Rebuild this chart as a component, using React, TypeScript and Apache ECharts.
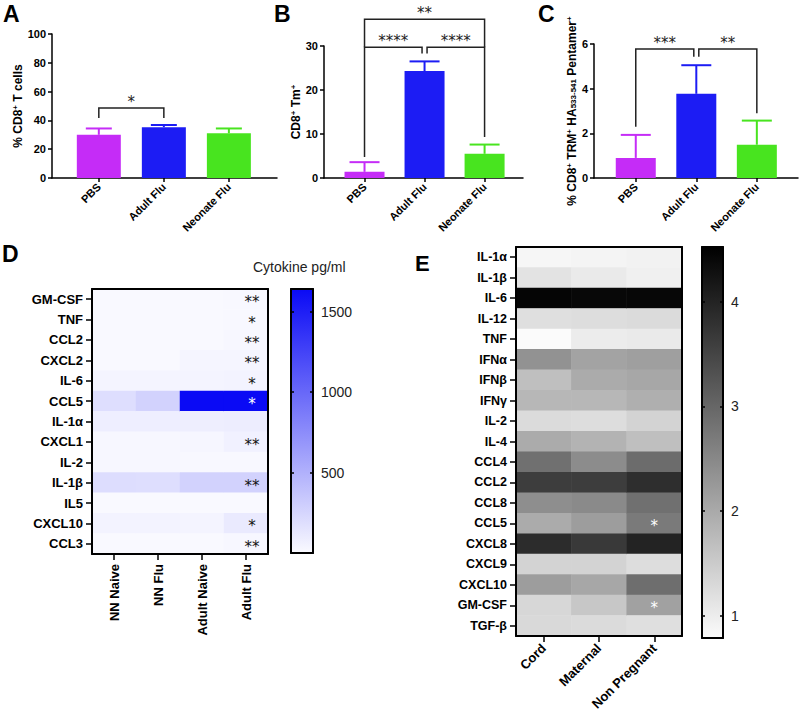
import React, { useEffect, useRef } from 'react';
import * as echarts from 'echarts';

const FONT = '"Liberation Sans", Arial, Helvetica, sans-serif';
const STAR_FONT = '"DejaVu Sans", "Liberation Sans", sans-serif';

// ---------- Panels A-C (bar charts) ----------
const barGroups = ['PBS', 'Adult Flu', 'Neonate Flu'];
const barColors = ['#c52cf7', '#1c1cf4', '#48e41f'];

const meansA = [30, 35.3, 31.1];
const upperA = [34.4, 36.8, 34.4];
const meansB = [1.4, 24.3, 5.5];
const upperB = [3.6, 26.5, 7.6];
const meansC = [0.9, 3.77, 1.49];
const upperC = [1.93, 5.05, 2.57];

// [fromGroup, toGroup, bracketLevel, legEndFrom, legEndTo, stars]
const bracketsA: [number, number, number, number, number, string][] = [[0, 1, 48.6, 41.6, 41.6, '*']];
const bracketsB: [number, number, number, number, number, string][] = [
  [0, 1, 29.7, 4.8, 28.3, '****'],
  [1, 2, 29.7, 28.3, 9.3, '****'],
  [0, 2, 36.1, 29.7, 29.7, '**'],
];
const bracketsC: [number, number, number, number, number, string][] = [
  [0, 1, 5.78, 2.29, 5.43, '***'],
  [1, 2, 5.78, 5.43, 2.9, '**'],
];

// ---------- Panel D (mouse cytokines) ----------
const rowsD = ['GM-CSF', 'TNF', 'CCL2', 'CXCL2', 'IL-6', 'CCL5', 'IL-1α', 'CXCL1', 'IL-2', 'IL-1β', 'IL5', 'CXCL10', 'CCL3'];
const colsD = ['NN Naive', 'NN Flu', 'Adult Naive', 'Adult Flu'];
const dNNNaive = [6, 4, 4, 6, 40, 190, 80, 22, 18, 200, 4, 50, 10];
const dNNFlu = [6, 4, 4, 6, 40, 270, 80, 22, 18, 190, 4, 50, 10];
const dAdultNaive = [10, 8, 8, 35, 40, 1640, 85, 28, 15, 270, 5, 40, 10];
const dAdultFlu = [15, 12, 18, 35, 50, 1640, 90, 60, 15, 270, 5, 110, 18];
const starsD = ['**', '*', '**', '**', '*', '*', '', '**', '', '**', '', '*', '**'];
const rangeD = [0, 1640];
const ticksD = [500, 1000, 1500];

// ---------- Panel E (human cytokines) ----------
const rowsE = ['IL-1α', 'IL-1β', 'IL-6', 'IL-12', 'TNF', 'IFNα', 'IFNβ', 'IFNγ', 'IL-2', 'IL-4', 'CCL4', 'CCL2', 'CCL8', 'CCL5', 'CXCL8', 'CXCL9', 'CXCL10', 'GM-CSF', 'TGF-β'];
const colsE = ['Cord', 'Maternal', 'Non Pregnant'];
const eCord = [0.87, 1.14, 4.45, 1.2, 0.79, 2.35, 1.68, 1.8, 1.26, 1.98, 2.86, 3.62, 2.41, 1.98, 3.86, 1.38, 2.19, 1.32, 1.29];
const eMaternal = [0.9, 1.05, 4.4, 1.23, 1.02, 2.1, 1.98, 1.8, 1.23, 1.86, 2.44, 3.62, 2.47, 2.19, 3.68, 1.38, 2.04, 1.56, 1.26];
const eNonPregnant = [0.93, 0.96, 4.42, 1.26, 1.05, 2.16, 2.04, 1.92, 1.39, 1.68, 2.92, 3.83, 2.86, 2.71, 4.0, 1.23, 2.89, 2.13, 1.2];
const starsE = ['', '', '', '', '', '', '', '', '', '', '', '', '', '*', '', '', '', '*', ''];
const rangeE = [0.79, 4.52];
const ticksE = [1, 2, 3, 4];

const BLACK = '#000';

function barAxes(i: number, min: number, max: number, yMax: number, interval: number, name: string, nameGap: number) {
  const line = { color: BLACK, width: 1.5 };
  const xAxis = {
    type: 'value', gridIndex: i, min, max,
    axisLine: { show: true, onZero: false, lineStyle: line },
    axisTick: { show: true, customValues: [0, 1, 2], length: 4, lineStyle: line },
    axisLabel: {
      customValues: [0, 1, 2], formatter: (v: number) => barGroups[Math.round(v)] ?? '',
      rotate: 45, fontSize: 11, fontWeight: 'bold', color: BLACK, margin: 7, fontFamily: FONT,
    },
    splitLine: { show: false },
  };
  const yAxis = {
    type: 'value', gridIndex: i, min: 0, max: yMax, interval,
    axisLine: { show: true, onZero: false, lineStyle: line },
    axisTick: { show: true, length: 4, lineStyle: line },
    axisLabel: { fontSize: 11, fontWeight: 'bold', color: BLACK, margin: 6, fontFamily: FONT },
    splitLine: { show: false },
    name, nameLocation: 'middle', nameGap,
    nameTextStyle: {
      fontSize: 12, fontWeight: 'bold', color: BLACK, fontFamily: FONT,
      rich: {
        sup: { fontSize: 8, fontWeight: 'bold', color: BLACK, verticalAlign: 'top', fontFamily: FONT },
        sub: { fontSize: 8, fontWeight: 'bold', color: BLACK, verticalAlign: 'bottom', fontFamily: FONT },
      },
    },
  };
  return { xAxis, yAxis };
}

function barSeries(i: number, means: number[], upper: number[], brackets: [number, number, number, number, number, string][], split: boolean, barW: number, capW: number) {
  return [
    {
      type: 'bar', xAxisIndex: i, yAxisIndex: i, barWidth: barW, z: 2,
      data: means.map((v, k) => ({ value: [k, v], itemStyle: { color: barColors[k] } })),
    },
    {
      type: 'custom', xAxisIndex: i, yAxisIndex: i, z: 3, clip: false,
      data: means.map((v, k) => [k, v, upper[k]]),
      renderItem: (params: any, api: any) => {
        const k = api.value(0);
        const p0 = api.coord([k, api.value(1)]);
        const p1 = api.coord([k, api.value(2)]);
        const c = barColors[k];
        return {
          type: 'group', children: [
            { type: 'line', shape: { x1: p0[0], y1: p0[1], x2: p1[0], y2: p1[1] }, style: { stroke: c, lineWidth: 2 } },
            { type: 'line', shape: { x1: p1[0] - capW / 2, y1: p1[1], x2: p1[0] + capW / 2, y2: p1[1] }, style: { stroke: c, lineWidth: 2 } },
          ],
        };
      },
    },
    {
      type: 'custom', xAxisIndex: i, yAxisIndex: i, z: 4, clip: false,
      data: brackets.map((b) => [b[0], b[2]]),
      renderItem: (params: any, api: any) => {
        const [from, to, level, lf, lt, stars] = brackets[params.dataIndex];
        const pa = api.coord([from, level]);
        const pb = api.coord([to, level]);
        let x1 = pa[0];
        let x2 = pb[0];
        if (split && to - from === 1) {
          if (from === 1) x1 += 2.5;
          if (to === 1) x2 -= 2.5;
        }
        const y = pa[1];
        const y1 = api.coord([from, lf])[1];
        const y2 = api.coord([to, lt])[1];
        return {
          type: 'group', children: [
            {
              type: 'polyline', shape: { points: [[x1, y1], [x1, y], [x2, y], [x2, y2]] },
              style: { stroke: '#222', lineWidth: 1.5, fill: 'none' },
            },
            {
              type: 'text', x: (x1 + x2) / 2, y: y - 6,
              style: { text: stars, fontSize: 15, fontFamily: STAR_FONT, fill: '#222', align: 'center', verticalAlign: 'middle' },
            },
          ],
        };
      },
    },
  ];
}

function borderCatAxis(grid: number, data: string[], position: string, isX: boolean) {
  return {
    type: 'category', gridIndex: grid, data, position, z: 10,
    inverse: !isX,
    axisLine: { show: true, onZero: false, lineStyle: { color: BLACK, width: 2 } },
    axisTick: { show: false }, axisLabel: { show: false }, splitLine: { show: false },
  };
}

function colorbarSeries(grid: number, range: number[], top: string, bottom: string) {
  return {
    type: 'custom', xAxisIndex: grid, yAxisIndex: grid, z: 2, clip: false,
    data: [[0, range[1]]],
    renderItem: (params: any, api: any) => {
      const pt = api.coord([0, range[1]]);
      const pb = api.coord([0, range[0]]);
      const w = api.size([1, 0])[0];
      return {
        type: 'rect',
        shape: { x: pt[0] - w / 2, y: pt[1], width: w, height: pb[1] - pt[1] },
        style: {
          fill: new echarts.graphic.LinearGradient(0, 0, 0, 1, [
            { offset: 0, color: top }, { offset: 1, color: bottom },
          ]),
        },
      };
    },
  };
}

function colorbarAxes(grid: number, range: number[], ticks: number[]) {
  const line = { color: BLACK, width: 2 };
  const x = [
    { type: 'category', gridIndex: grid, data: [''], position: 'bottom', z: 10, axisLine: { show: true, onZero: false, lineStyle: line }, axisTick: { show: false }, axisLabel: { show: false } },
    { type: 'category', gridIndex: grid, data: [''], position: 'top', z: 10, axisLine: { show: true, onZero: false, lineStyle: line }, axisTick: { show: false }, axisLabel: { show: false } },
  ];
  const y = [
    {
      type: 'value', gridIndex: grid, min: range[0], max: range[1], position: 'right', z: 10,
      axisLine: { show: true, onZero: false, lineStyle: line },
      axisTick: { show: true, inside: true, length: 3, customValues: ticks, lineStyle: { color: BLACK, width: 1.5 } },
      axisLabel: { customValues: ticks, formatter: (v: number) => String(v), fontSize: 14, color: '#222', margin: 8, fontFamily: FONT },
      splitLine: { show: false },
    },
    {
      type: 'value', gridIndex: grid, min: range[0], max: range[1], position: 'left', z: 10,
      axisLine: { show: true, onZero: false, lineStyle: line },
      axisTick: { show: true, inside: true, length: 3, customValues: ticks, lineStyle: { color: BLACK, width: 1.5 } },
      axisLabel: { show: false },
      splitLine: { show: false },
    },
  ];
  return { x, y };
}

function buildOption() {
  const a = barAxes(0, -0.72, 2.74, 100, 20, '% CD8{sup|+} T cells', 24);
  const b = barAxes(1, -0.675, 2.64, 30, 10, 'CD8{sup|+} Tm{sup|+}', 21);
  const c = barAxes(2, -0.69, 2.68, 6, 2, '% CD8{sup|+} TRM{sup|+} HA{sub|533-541} Pentamer{sup|+}', 16);

  const heatLabel = { fontSize: 13, fontWeight: 'bold', color: BLACK, fontFamily: FONT };
  const tickLine = { color: BLACK, width: 1.5 };

  const dX = {
    type: 'category', gridIndex: 3, data: colsD, position: 'bottom', z: 10,
    axisLine: { show: true, onZero: false, lineStyle: { color: BLACK, width: 2 } },
    axisTick: { show: true, alignWithLabel: true, length: 6, lineStyle: tickLine },
    axisLabel: { ...heatLabel, rotate: 90, margin: 10 },
    splitLine: { show: false },
  };
  const dY = {
    type: 'category', gridIndex: 3, data: rowsD, inverse: true, position: 'left', z: 10,
    axisLine: { show: true, onZero: false, lineStyle: { color: BLACK, width: 2 } },
    axisTick: { show: true, alignWithLabel: true, length: 6, lineStyle: tickLine },
    axisLabel: { ...heatLabel, margin: 9 },
    splitLine: { show: false },
  };
  const eX = {
    type: 'category', gridIndex: 5, data: colsE, position: 'bottom', z: 10,
    axisLine: { show: true, onZero: false, lineStyle: { color: BLACK, width: 2 } },
    axisTick: { show: true, alignWithLabel: true, length: 6, lineStyle: tickLine },
    axisLabel: { ...heatLabel, rotate: 45, margin: 10 },
    splitLine: { show: false },
  };
  const eY = {
    type: 'category', gridIndex: 5, data: rowsE, inverse: true, position: 'left', z: 10,
    axisLine: { show: true, onZero: false, lineStyle: { color: BLACK, width: 2 } },
    axisTick: { show: true, alignWithLabel: true, length: 6, lineStyle: tickLine },
    axisLabel: { ...heatLabel, fontSize: 12.5, margin: 9 },
    splitLine: { show: false },
  };

  const cbD = colorbarAxes(4, rangeD, ticksD);
  const cbE = colorbarAxes(6, rangeE, ticksE);

  const colD = [dNNNaive, dNNFlu, dAdultNaive, dAdultFlu];
  const heatD: any[] = [];
  colD.forEach((col, ci) => col.forEach((v, ri) => {
    const star = ci === 3 ? starsD[ri] : '';
    heatD.push({
      value: [ci, ri, v],
      label: { show: !!star, formatter: star, color: v > 1000 ? '#fff' : '#111' },
    });
  }));
  const colE = [eCord, eMaternal, eNonPregnant];
  const heatE: any[] = [];
  colE.forEach((col, ci) => col.forEach((v, ri) => {
    const star = ci === 2 ? starsE[ri] : '';
    heatE.push({ value: [ci, ri, v], label: { show: !!star, formatter: star, color: '#fff' } });
  }));

  const gridBase = { outerBoundsMode: 'none', containLabel: false };

  return {
    animation: false,
    backgroundColor: '#fff',
    textStyle: { fontFamily: FONT },
    grid: [
      { ...gridBase, left: 52, top: 34, width: 225, height: 144 },
      { ...gridBase, left: 324, top: 46, width: 199, height: 132 },
      { ...gridBase, left: 594, top: 44, width: 204, height: 134 },
      { ...gridBase, left: 92, top: 289, width: 176, height: 265 },
      { ...gridBase, left: 291, top: 289, width: 22, height: 264 },
      { ...gridBase, left: 516, top: 247, width: 166, height: 389 },
      { ...gridBase, left: 702, top: 247, width: 21, height: 391 },
    ],
    xAxis: [
      a.xAxis, b.xAxis, c.xAxis, dX, cbD.x[0], eX, cbE.x[0],
      borderCatAxis(3, colsD, 'top', true), cbD.x[1], borderCatAxis(5, colsE, 'top', true), cbE.x[1],
    ],
    yAxis: [
      a.yAxis, b.yAxis, c.yAxis, dY, cbD.y[0], eY, cbE.y[0],
      borderCatAxis(3, rowsD, 'right', false), cbD.y[1], borderCatAxis(5, rowsE, 'right', false), cbE.y[1],
    ],
    visualMap: [
      { type: 'continuous', show: false, seriesIndex: 9, min: rangeD[0], max: rangeD[1], dimension: 2, inRange: { color: ['#fafaff', '#0a0af5'] } },
      { type: 'continuous', show: false, seriesIndex: 11, min: rangeE[0], max: rangeE[1], dimension: 2, inRange: { color: ['#fbfbfb', '#000000'] } },
    ],
    series: [
      ...barSeries(0, meansA, upperA, bracketsA, false, 44, 26),
      ...barSeries(1, meansB, upperB, bracketsB, true, 40, 30),
      ...barSeries(2, meansC, upperC, bracketsC, true, 40, 30),
      {
        type: 'heatmap', xAxisIndex: 3, yAxisIndex: 3, data: heatD, z: 2,
        label: { show: false, fontSize: 15, fontFamily: STAR_FONT, offset: [6, 3] },
        emphasis: { disabled: true },
      },
      colorbarSeries(4, rangeD, '#0a0af5', '#fafaff'),
      {
        type: 'heatmap', xAxisIndex: 5, yAxisIndex: 5, data: heatE, z: 2,
        label: { show: false, fontSize: 15, fontFamily: STAR_FONT, offset: [0, 3] },
        emphasis: { disabled: true },
      },
      colorbarSeries(6, rangeE, '#000000', '#fbfbfb'),
    ],
    graphic: [
      { type: 'text', left: 3, top: 2, style: { text: 'A', fontSize: 23, fontWeight: 'bold', fill: BLACK, fontFamily: FONT } },
      { type: 'text', left: 274, top: 2, style: { text: 'B', fontSize: 23, fontWeight: 'bold', fill: BLACK, fontFamily: FONT } },
      { type: 'text', left: 538, top: 2, style: { text: 'C', fontSize: 23, fontWeight: 'bold', fill: BLACK, fontFamily: FONT } },
      { type: 'text', left: 2, top: 242, style: { text: 'D', fontSize: 23, fontWeight: 'bold', fill: BLACK, fontFamily: FONT } },
      { type: 'text', left: 415, top: 252, style: { text: 'E', fontSize: 22, fontWeight: 'bold', fill: BLACK, fontFamily: FONT } },
      { type: 'text', left: 253, top: 260, style: { text: 'Cytokine pg/ml', fontSize: 14, fill: '#222', fontFamily: FONT } },
    ],
  };
}

export default function App() {
  const ref = useRef<HTMLDivElement>(null);
  useEffect(() => {
    document.body.style.margin = '0';
    const chart = echarts.init(ref.current as HTMLDivElement, null, { renderer: 'svg' });
    chart.setOption(buildOption() as any);
    return () => chart.dispose();
  }, []);
  return <div ref={ref} style={{ width: 800, height: 714 }} />;
}
